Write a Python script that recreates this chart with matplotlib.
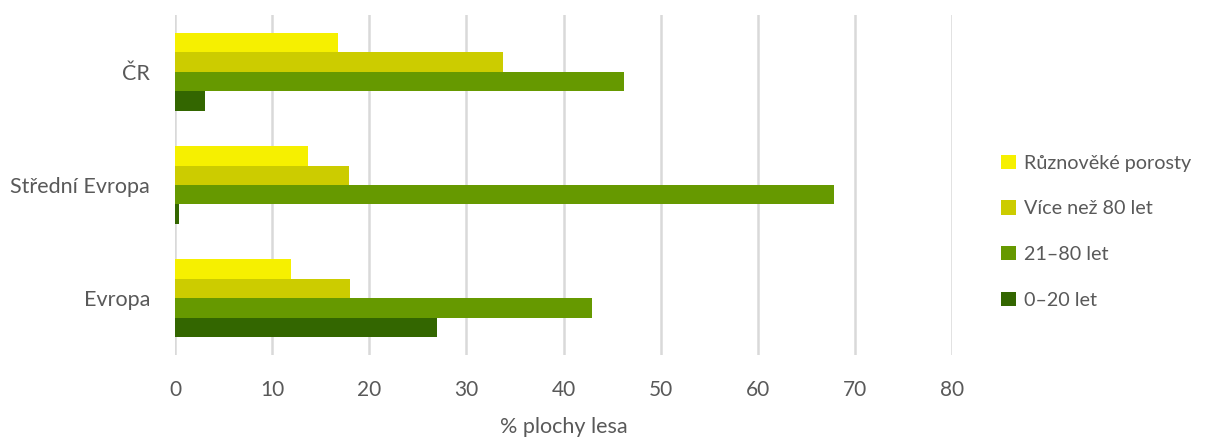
import numpy as np
import matplotlib.pyplot as plt

# categories (top to bottom) and series values, % of forest area
regions = ["ČR", "Střední Evropa", "Evropa"]
series_names = ["Různověké porosty", "Více než 80 let", "21–80 let", "0–20 let"]
mixed_age = [16.8, 13.7, 11.9]
over_80 = [33.8, 17.9, 18.0]
age_21_80 = [46.2, 67.8, 42.9]
age_0_20 = [3.1, 0.4, 27.0]
colors = ["#F6F000", "#CCCC00", "#669900", "#336600"]
x_ticks = [0, 10, 20, 30, 40, 50, 60, 70, 80]

plt.rcParams['font.family'] = ['Lato', 'DejaVu Sans']

fig = plt.figure(figsize=(12.14, 4.37), dpi=100)
ax = fig.add_axes([0.1442, 0.1876, 0.64, 0.7781])

y = np.arange(len(regions))
h = 0.172
values = [mixed_age, over_80, age_21_80, age_0_20]
offsets = [-1.5, -0.5, 0.5, 1.5]
for vals, off, col, name in zip(values, offsets, colors, series_names):
    ax.barh(y + off * h, vals, height=h, color=col, label=name, zorder=3)

ax.set_ylim(len(regions) - 0.5, -0.5)
ax.set_xlim(0, 80)
ax.set_xticks(x_ticks)
ax.set_yticks(y)
ax.set_yticklabels(regions)
ax.grid(axis="x", color="#D9D9D9", linewidth=1.8, zorder=0)
for s in ax.spines.values():
    s.set_visible(False)
ax.tick_params(axis="x", length=0, colors="#595959", labelsize=15, pad=18)
ax.tick_params(axis="y", length=0, colors="#595959", labelsize=15.5, pad=18)
ax.set_xlabel("% plochy lesa", fontsize=15.5, color="#595959", labelpad=12)

fig.legend(loc="center left", bbox_to_anchor=(0.81, 0.47), frameon=False,
           fontsize=14.2, labelcolor="#595959", handlelength=0.75, handleheight=0.75,
           handletextpad=0.4, labelspacing=1.45)

fig.savefig("out.png", dpi=100)
